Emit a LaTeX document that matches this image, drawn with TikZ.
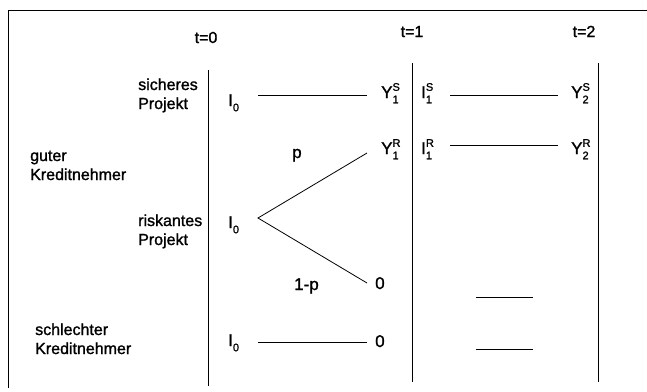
\documentclass[tikz,border=0pt]{standalone}
\usepackage{fontspec}
\setmainfont{Liberation Sans}[FakeBold=1.3]
\newcommand\idx[3]{{\fontsize{17}{19}\selectfont #1}\makebox[0pt][l]{\raisebox{0.45em}{\fontsize{11}{11}\selectfont #2}}\raisebox{-0.33em}{\fontsize{11}{11}\selectfont #3}}
\begin{document}
\begin{tikzpicture}[x=1pt,y=-1pt,
  txt/.style={inner sep=0pt,font=\fontsize{16}{19}\selectfont,align=left},
  ln/.style={line width=0.8pt},
  frame/.style={line width=0.9pt}]
\useasboundingbox (0,0) rectangle (647,391);
% frame
\draw[frame] (8,388) -- (8,10) -- (647,10);
% time columns
\draw[ln] (208,70) -- (208,386);
\draw[ln] (412,63) -- (412,382);
\draw[ln] (598,63) -- (598,382);
% headings
\node[txt,anchor=base] (t0) at (206,43) {t=0};
\node[txt,anchor=base] (t1) at (412,37) {t=1};
\node[txt,anchor=base] (t2) at (584,37) {t=2};
% left labels (base = last line)
\node[txt,anchor=base west] (sich) at (138,109) {sicheres\\Projekt};
\node[txt,anchor=base west] (gut) at (30,180) {guter\\Kreditnehmer};
\node[txt,anchor=base west] (risk) at (138,245) {riskantes\\Projekt};
\node[txt,anchor=base west] (schl) at (35,354) {schlechter\\Kreditnehmer};
% values
\node[txt,anchor=base west] (ia) at (228,106) {\idx{I}{}{0}};
\node[txt,anchor=base west] (ib) at (228,228) {\idx{I}{}{0}};
\node[txt,anchor=base west] (ic) at (228,346) {\idx{I}{}{0}};
\node[txt,anchor=base west] (y1s) at (381,98) {\idx{Y}{S}{1}};
\node[txt,anchor=base west] (i1s) at (421,98) {\idx{I}{S}{1}};
\node[txt,anchor=base west] (y2s) at (571,98) {\idx{Y}{S}{2}};
\node[txt,anchor=base west] (y1r) at (381,154) {\idx{Y}{R}{1}};
\node[txt,anchor=base west] (i1r) at (421,154) {\idx{I}{R}{1}};
\node[txt,anchor=base west] (y2r) at (571,154) {\idx{Y}{R}{2}};
\node[txt,anchor=base west] (p) at (292,158) {\fontsize{17}{19}\selectfont p};
\node[txt,anchor=base west] (q) at (294,290) {\fontsize{17}{19}\selectfont 1-p};
\node[txt,anchor=base west] (za) at (375,289) {\fontsize{17}{19}\selectfont 0};
\node[txt,anchor=base west] (zb) at (375,347) {\fontsize{17}{19}\selectfont 0};
% connector ends
\coordinate (a1) at (258,95);  \coordinate (a2) at (367,95);
\coordinate (b1) at (450,95);  \coordinate (b2) at (558,95);
\coordinate (c1) at (450,145); \coordinate (c2) at (558,145);
\coordinate (apex) at (258,218);
\coordinate (up) at (367,153); \coordinate (dn) at (367,283);
\coordinate (d1) at (258,342); \coordinate (d2) at (367,342);
\coordinate (e1) at (476,297); \coordinate (e2) at (533,297);
\coordinate (f1) at (476,349); \coordinate (f2) at (533,349);
\draw[ln] (a1) -- (a2);
\draw[ln] (b1) -- (b2);
\draw[ln] (c1) -- (c2);
\draw[ln] (up) -- (apex) -- (dn);
\draw[ln] (d1) -- (d2);
\draw[ln] (e1) -- (e2);
\draw[ln] (f1) -- (f2);
\end{tikzpicture}
\end{document}
